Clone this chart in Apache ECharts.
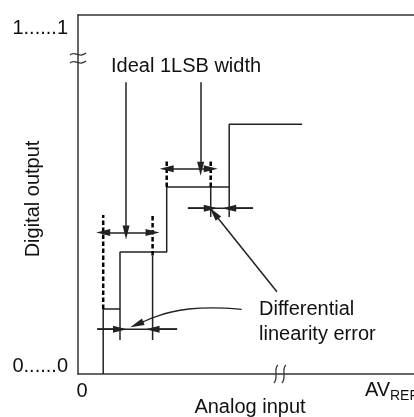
<!DOCTYPE html>
<html><head><meta charset="utf-8">
<script src="https://cdn.jsdelivr.net/npm/echarts@6/dist/echarts.min.js"></script>
<style>html,body{margin:0;padding:0;background:#fff}#c{width:414px;height:417px}</style>
</head><body><div id="c"></div>
<script>
// ---- data (diagram units: x and y from 0 to 100 of the plot area) ----
const stairX = [7.5, 7.5, 12.5, 12.5, 26.4, 26.4, 45.0, 45.0, 66.7];
const stairY = [0, 18.1, 18.1, 34.0, 34.0, 52.1, 52.1, 69.6, 69.6];
// solid vertical extensions: [x, yFrom, yTo]
const solidExt = [[12.5, 9.5, 18.1], [22.2, 9.5, 33.0], [39.5, 43.7, 52.1], [45.0, 43.7, 52.1]];
// dashed ideal boundaries: [x, yFrom, yTo]
const idealBounds = [[7.5, 18.1, 44.3], [22.2, 33.0, 44.3], [26.4, 52.1, 59.9], [39.5, 52.1, 59.9]];
// ideal 1LSB width double arrows: [y, xFrom, xTo]
const lsbArrows = [[39.4, 7.5, 22.2], [57.2, 26.4, 39.5]];
// label pointer arrows (vertical): [x, yFrom, yTo]
const labelArrows = [[14.3, 81.3, 39.4], [36.5, 81.3, 57.2]];
// differential error markers: [y, lineFrom, lineTo, tipLeft, tipRight]
const dleMarks = [[46.2, 32.7, 52.1, 39.5, 45.0], [12.5, 5.7, 29.5, 12.5, 22.2]];
// straight leader arrow: [x1, y1, x2, y2]
const leaderStraight = [59.2, 22.9, 40.5, 44.8];
// curved leader arrow path (last point is the tip)
const leaderCurveX = [48.7, 40.0, 33.0, 27.5, 23.0, 19.8, 17.5];
const leaderCurveY = [18.0, 18.4, 18.1, 17.2, 15.9, 14.7, 13.8];
const yTickLabels = ['0......0', '1......1'];
const xTickLabels = ['0', 'AV', 'REF'];
const xBreakAt = 60.1, yBreakAt = 88.0;

const C = '#222';
const FONT = '"Liberation Sans", Arial, sans-serif';
const chart = echarts.init(document.getElementById('c'), null, {renderer: 'canvas'});

const seg = (pts, dashed, w, smooth) => ({
  type: 'line', data: pts, symbol: 'none', silent: true, animation: false, smooth: smooth || false,
  lineStyle: {color: dashed ? '#000' : C, width: w || 1.5, type: dashed ? [4.5, 2.5] : 'solid'}
});
const series = [];
series.push(seg(stairX.map((x, i) => [x, stairY[i]])));
solidExt.forEach(([x, a, b]) => series.push(seg([[x, a], [x, b]])));
idealBounds.forEach(([x, a, b]) => series.push(seg([[x, a], [x, b]], true, 2.5)));
dleMarks.forEach(([y, a, b]) => series.push(seg([[a, y], [b, y]])));
series.push(seg(leaderCurveX.slice(0, -1).map((x, i) => [x, leaderCurveY[i]]), false, 1.3, 0.4));

const AS = [7, 14];
const ml = [];
const arrow = (x1, y1, x2, y2, both) => ([
  {coord: [x1, y1], symbol: both ? 'triangle' : 'none', symbolSize: AS},
  {coord: [x2, y2], symbol: 'triangle', symbolSize: AS}
]);
lsbArrows.forEach(([y, a, b]) => ml.push(arrow(a, y, b, y, true)));
labelArrows.forEach(([x, a, b]) => ml.push(arrow(x, a, x, b)));
dleMarks.forEach(([y, a, b, tl, tr]) => { ml.push(arrow(a, y, tl, y)); ml.push(arrow(b, y, tr, y)); });
ml.push(arrow(...leaderStraight));
const n = leaderCurveX.length;
ml.push(arrow(leaderCurveX[n - 2], leaderCurveY[n - 2], leaderCurveX[n - 1], leaderCurveY[n - 1]));
series.push({
  type: 'line', data: [], silent: true, animation: false,
  markLine: {
    silent: true, animation: false, symbolSize: AS, label: {show: false},
    lineStyle: {color: C, width: 1.5, type: 'solid'},
    emphasis: {disabled: true},
    data: ml
  }
});

const axisCommon = {
  type: 'value', min: 0, max: 100, splitLine: {show: false}, axisTick: {show: false},
  axisLabel: {show: false}, axisLine: {show: true, lineStyle: {color: '#333', width: 1.5}}
};
chart.setOption({
  animation: false,
  grid: {left: 78, right: 0, top: 15, bottom: 43, containLabel: false},
  xAxis: [Object.assign({position: 'bottom'}, axisCommon), Object.assign({position: 'top'}, axisCommon)],
  yAxis: [Object.assign({position: 'left'}, axisCommon)],
  series: series
});

const p = (x, y) => chart.convertToPixel({gridIndex: 0}, [x, y]);
const [ax, by] = p(0, yBreakAt);
const [bx, ay] = p(xBreakAt, 0);
const txt = (x, y, s, o) => Object.assign({type: 'text', x: x, y: y, silent: true,
  style: Object.assign({text: s, fill: '#111', font: '20px ' + FONT, textVerticalAlign: 'middle'}, o || {})});
const bz = (x1, y1, c1x, c1y, c2x, c2y, x2, y2) => ({type: 'bezierCurve', silent: true,
  shape: {x1, y1, cpx1: c1x, cpy1: c1y, cpx2: c2x, cpy2: c2y, x2, y2},
  style: {stroke: '#333', lineWidth: 1.3, fill: null}});
const [, y0] = p(0, 0), [, y100] = p(0, 100), [x0] = p(0, 0);
chart.setOption({graphic: [
  {type: 'rect', silent: true, shape: {x: ax - 3, y: by - 4, width: 6, height: 8}, style: {fill: '#fff'}},
  bz(ax - 8, by - 3, ax - 3, by - 8, ax + 2, by + 1, ax + 8, by - 5),
  bz(ax - 8, by + 5, ax - 3, by, ax + 2, by + 9, ax + 8, by + 3),
  {type: 'rect', silent: true, shape: {x: bx - 4, y: ay - 3, width: 8, height: 6}, style: {fill: '#fff'}},
  bz(bx - 2, ay - 9, bx - 7, ay - 5, bx - 1, ay + 4, bx - 6, ay + 9),
  bz(bx + 6, ay - 9, bx + 1, ay - 5, bx + 7, ay + 4, bx + 2, ay + 9),
  txt(68, y100 + 13, yTickLabels[1], {textAlign: 'right'}),
  txt(68, y0 - 8, yTickLabels[0], {textAlign: 'right'}),
  txt(x0 + 4, y0 + 17, xTickLabels[0], {textAlign: 'center'}),
  txt(365, y0 + 16, xTickLabels[1], {textAlign: 'left'}),
  txt(390, y0 + 22, xTickLabels[2], {textAlign: 'left', font: '14px ' + FONT}),
  txt(250, 407, 'Analog input', {textAlign: 'center'}),
  {type: 'text', x: 33, y: 199, rotation: Math.PI / 2, silent: true,
   style: {text: 'Digital output', fill: '#111', font: '20px ' + FONT, textAlign: 'center', textVerticalAlign: 'middle'}},
  txt(111, 66, 'Ideal 1LSB width'),
  txt(259, 309, 'Differential'),
  txt(259, 334, 'linearity error')
]});
</script></body></html>
